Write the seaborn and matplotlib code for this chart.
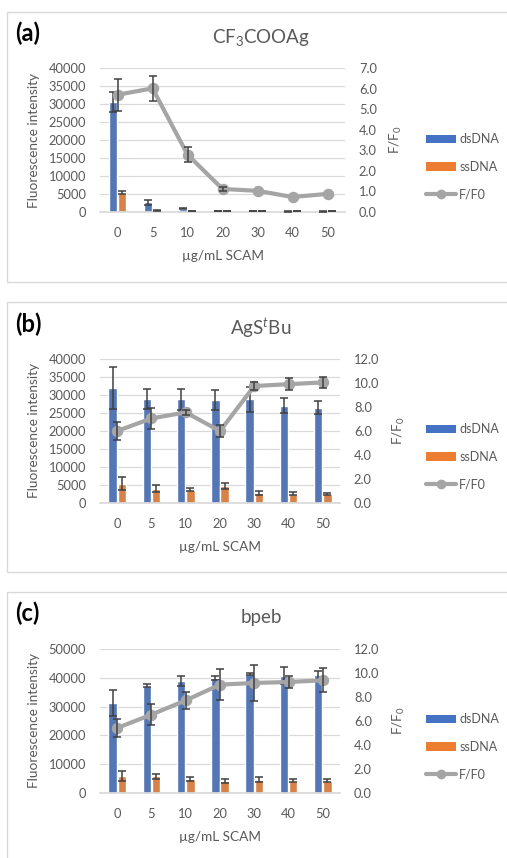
import matplotlib
matplotlib.use("Agg")
import matplotlib.pyplot as plt
import seaborn as sns
import pandas as pd
import numpy as np
from matplotlib.patches import Rectangle, Patch
from matplotlib.lines import Line2D

# --- Data ---
conc = ["0", "5", "10", "20", "30", "40", "50"]

# (a) CF3COOAg
a_ds = [30500, 2700, 850, 200, 200, 150, 150]
a_ds_err = [2800, 700, 150, 50, 50, 50, 50]
a_ss = [5300, 450, 280, 200, 200, 220, 220]
a_ss_err = [400, 80, 50, 40, 40, 40, 40]
a_ff = [5.70, 6.01, 2.79, 1.12, 1.03, 0.73, 0.88]
a_ff_err = [0.77, 0.62, 0.35, 0.10, 0, 0, 0]

# (b) AgStBu
b_ds = [32000, 28800, 28800, 28600, 28800, 27000, 26400]
b_ds_err = [5800, 2800, 3000, 2800, 3400, 2100, 1800]
b_ss = [5400, 4000, 3700, 4650, 2800, 2600, 2450]
b_ss_err = [1800, 900, 400, 900, 500, 400, 300]
b_ff = [6.0, 7.05, 7.55, 6.0, 9.75, 9.9, 10.05]
b_ff_err = [0.75, 0.85, 0.2, 0.5, 0.3, 0.5, 0.45]

# (c) bpeb
c_ds = [31200, 37300, 38800, 39900, 41400, 40700, 40900]
c_ds_err = [4500, 400, 1700, 600, 300, 3000, 1500]
c_ss = [5800, 5800, 4850, 4300, 4600, 4300, 4300]
c_ss_err = [1800, 900, 800, 700, 900, 600, 600]
c_ff = [5.42, 6.53, 7.72, 9.03, 9.17, 9.25, 9.39]
c_ff_err = [0.75, 0.9, 0.7, 1.3, 1.5, 0.5, 1.0]

BLUE = "#4472C4"
ORANGE = "#ED7D31"
GREY = "#A5A5A5"
TXT = "#595959"
GRID = "#D9D9D9"
ERR = "#404040"

sns.set_theme(style="white")
plt.rcParams["font.family"] = ["Lato", "DejaVu Sans"]
plt.rcParams["mathtext.fontset"] = "custom"
plt.rcParams["mathtext.rm"] = "Lato"
plt.rcParams["mathtext.it"] = "Lato:italic"

W, H = 507, 858
fig = plt.figure(figsize=(W / 100, H / 100), dpi=100)


def fx(px):
    return px / W


def fy(py):
    return 1 - py / H


panels = [
    dict(tag="(a)", title=r"CF$_\mathregular{3}$COOAg", ds=a_ds, dse=a_ds_err, ss=a_ss, sse=a_ss_err,
         ff=a_ff, ffe=a_ff_err, lmax=40000, lstep=5000, rmax=7.0, rstep=1.0,
         box=(7, 12, 282), plot=(100, 345, 68, 212), title_y=38, tag_y=33, leg_y=167),
    dict(tag="(b)", title=r"AgS$^{\mathit{t}}$Bu", ds=b_ds, dse=b_ds_err, ss=b_ss, sse=b_ss_err,
         ff=b_ff, ffe=b_ff_err, lmax=40000, lstep=5000, rmax=12.0, rstep=2.0,
         box=(7, 302, 572), plot=(100, 340, 359, 503), title_y=328, tag_y=324, leg_y=457),
    dict(tag="(c)", title="bpeb", ds=c_ds, dse=c_ds_err, ss=c_ss, sse=c_ss_err,
         ff=c_ff, ffe=c_ff_err, lmax=50000, lstep=10000, rmax=12.0, rstep=2.0,
         box=(7, 592, 870), plot=(100, 340, 649, 793), title_y=617, tag_y=613, leg_y=747),
]

for p in panels:
    bx, btop, bbot = p["box"]
    fig.patches.append(Rectangle((fx(bx), fy(bbot)), fx(W + 5 - bx), (bbot - btop) / H,
                                 transform=fig.transFigure, fill=False,
                                 edgecolor=GRID, linewidth=1.0, zorder=0))

    x0, x1, y0, y1 = p["plot"]
    ax = fig.add_axes([fx(x0), fy(y1), fx(x1 - x0), (y1 - y0) / H])

    df = pd.DataFrame({
        "conc": conc * 2,
        "val": p["ds"] + p["ss"],
        "type": ["dsDNA"] * 7 + ["ssDNA"] * 7,
    })
    sns.barplot(data=df, x="conc", y="val", hue="type", order=conc,
                palette=[BLUE, ORANGE], width=0.54, gap=0.1,
                errorbar=None, legend=False, ax=ax, zorder=2)

    for cont, errs in zip(ax.containers, [p["dse"], p["sse"]]):
        xs = [b.get_x() + b.get_width() / 2 for b in cont]
        ys = [b.get_height() for b in cont]
        ax.errorbar(xs, ys, yerr=errs, fmt="none", ecolor=ERR,
                    elinewidth=1.1, capsize=2.8, capthick=1.1, zorder=3)

    ax.set_ylim(0, p["lmax"])
    ax.set_yticks(np.arange(0, p["lmax"] + 1, p["lstep"]))
    ax.set_xlim(-0.5, 6.5)
    ax.grid(axis="y", color=GRID, linewidth=0.9)
    ax.set_axisbelow(True)
    for s in ["top", "left", "right"]:
        ax.spines[s].set_visible(False)
    ax.spines["bottom"].set_color(GRID)
    ax.tick_params(length=0, labelsize=9.3, colors=TXT)
    ax.tick_params(axis="y", pad=10)
    ax.tick_params(axis="x", pad=11)
    ax.set_xlabel("µg/mL SCAM", fontsize=9.8, color=TXT, labelpad=8)
    ax.set_ylabel("Fluorescence intensity", fontsize=9.8, color=TXT, labelpad=6)

    ax2 = ax.twinx()
    ffdf = pd.DataFrame({"conc": conc, "ff": p["ff"]})
    sns.pointplot(data=ffdf, x="conc", y="ff", order=conc, color=GREY,
                  markers="o", markersize=6, linewidth=3, errorbar=None, ax=ax2)
    line = ax2.lines[0]
    xs = np.asarray(line.get_xdata(), dtype=float)
    ffv = np.asarray(p["ff"])
    ffe = np.asarray(p["ffe"])
    keep = ffe > 0
    ax2.errorbar(xs[keep], ffv[keep], yerr=ffe[keep], fmt="none", ecolor=ERR,
                 elinewidth=1.1, capsize=2.8, capthick=1.1, zorder=5)
    ax2.set_ylim(0, p["rmax"])
    ax2.set_yticks(np.arange(0, p["rmax"] + 0.01, p["rstep"]))
    ax2.set_yticklabels([f"{v:.1f}" for v in np.arange(0, p["rmax"] + 0.01, p["rstep"])])
    ax2.set_xlim(-0.5, 6.5)
    for s in ax2.spines.values():
        s.set_visible(False)
    ax2.tick_params(length=0, labelsize=9.3, colors=TXT, pad=10)
    ax2.set_ylabel(r"F/F$_\mathregular{0}$", fontsize=9.8, color=TXT, labelpad=8)
    ax2.set_xlabel("")

    fig.text(fx(261), fy(p["title_y"]), p["title"], ha="center", va="center",
             fontsize=13.5, color=TXT)
    fig.text(fx(15), fy(p["tag_y"]), p["tag"], ha="left", va="center",
             fontsize=17, fontweight="bold", color="black")

    handles = [Patch(facecolor=BLUE, edgecolor="none"),
               Patch(facecolor=ORANGE, edgecolor="none"),
               Line2D([], [], color=GREY, linewidth=3, marker="o", markersize=6)]
    ax.legend(handles, ["dsDNA", "ssDNA", "F/F0"], loc="center left",
              bbox_to_anchor=(fx(426), fy(p["leg_y"])), bbox_transform=fig.transFigure,
              frameon=False, fontsize=9, labelcolor=TXT, handlelength=2.4,
              handleheight=0.7, handletextpad=0.25, labelspacing=1.25,
              borderaxespad=0, borderpad=0)

fig.savefig("out.png", dpi=100)
